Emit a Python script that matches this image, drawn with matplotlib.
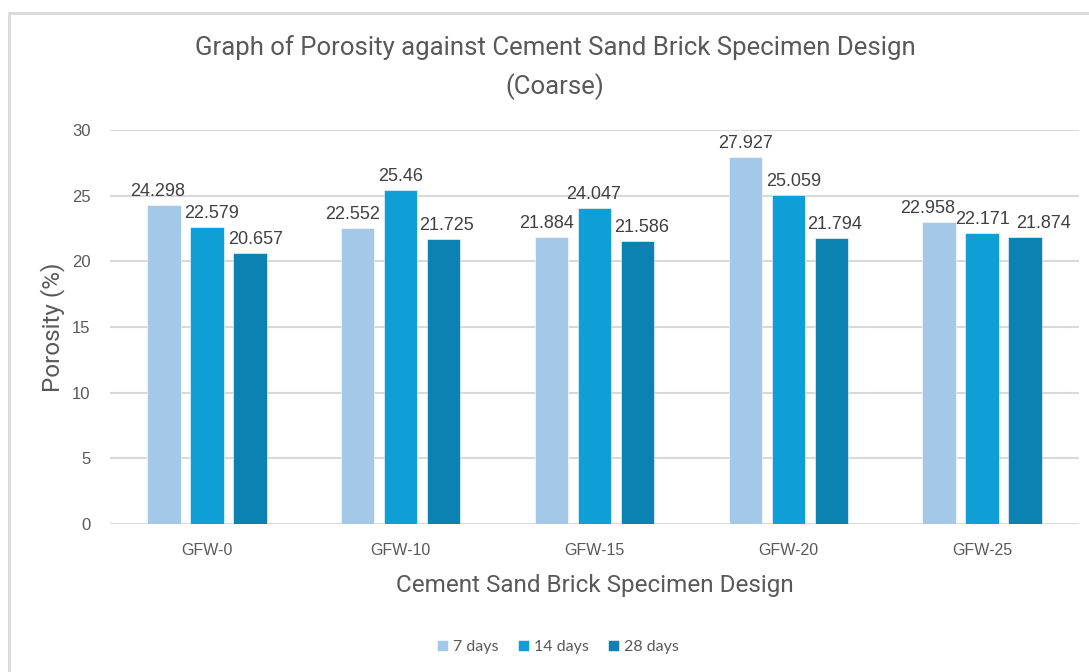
import matplotlib.pyplot as plt
import numpy as np
from matplotlib.patches import Rectangle

designs = ["GFW-0", "GFW-10", "GFW-15", "GFW-20", "GFW-25"]
series_names = ["7 days", "14 days", "28 days"]
days_7 = [24.298, 22.552, 21.884, 27.927, 22.958]
days_14 = [22.579, 25.46, 24.047, 25.059, 22.171]
days_28 = [20.657, 21.725, 21.586, 21.794, 21.874]
colors = ["#A3C8E8", "#0F9ED5", "#0B82B2"]

# sideways nudge of each value label (pixels), one row per series
label_shift = [
    [-6, -5, -5, 0, -11],
    [5, 0, -1, 5, 0],
    [6, 3, 4, 3, 18],
]

text_gray = "#595959"
label_gray = "#404040"

fig = plt.figure(figsize=(10.89, 6.72), dpi=100)
ax = fig.add_axes([110 / 1089, 148 / 672, 969 / 1089, 394 / 672])

# light frame round the whole chart
fig.patches.append(Rectangle((9 / 1089, -0.1), 1.2, (672 - 13) / 672 + 0.1,
                             transform=fig.transFigure, fill=False,
                             edgecolor="#D9D9D9", linewidth=2))

x = np.arange(len(designs))
width = 0.172
step = 0.222

for i, (name, vals) in enumerate(zip(series_names, [days_7, days_14, days_28])):
    pos = x + (i - 1) * step
    bars = ax.bar(pos, vals, width, color=colors[i], label=name,
                  edgecolor="white", linewidth=0.4, zorder=3)
    for b, v, dx in zip(bars, vals, label_shift[i]):
        ax.annotate(f"{v:g}", (b.get_x() + b.get_width() / 2, v),
                    xytext=(dx, 5), textcoords="offset pixels",
                    ha="center", va="bottom", fontsize=13,
                    color=label_gray, family="Liberation Sans")

ax.set_xlim(-0.5, len(designs) - 0.5)
ax.set_ylim(0, 30)
ax.set_yticks(range(0, 31, 5))
ax.set_xticks(x)
ax.set_xticklabels(designs)
ax.grid(axis="y", color="#D9D9D9", linewidth=1.5, zorder=0)
ax.tick_params(length=0, labelsize=11.5, colors=text_gray, pad=14)
ax.tick_params(axis="y", pad=14, labelsize=12)
for lab in ax.get_xticklabels() + ax.get_yticklabels():
    lab.set_family("Liberation Sans")
for s in ax.spines.values():
    s.set_visible(False)

ax.set_xlabel("Cement Sand Brick Specimen Design", fontsize=17.5,
              color=text_gray, family="Roboto", labelpad=11)
ax.set_ylabel("Porosity (%)", fontsize=17.5, color=text_gray,
              family="Roboto", labelpad=5)

fig.text(555 / 1089, 1 - 48 / 672, "Graph of Porosity against Cement Sand Brick Specimen Design",
         ha="center", va="center", fontsize=18.5, color=text_gray, family="Roboto")
fig.text(555 / 1089, 1 - 87 / 672, "(Coarse)", ha="center", va="center",
         fontsize=18.5, color=text_gray, family="Roboto")

leg = fig.legend(loc="center", bbox_to_anchor=(558 / 1089, 1 - 647 / 672),
                 ncol=3, frameon=False, handlelength=0.7,
                 handleheight=0.7, handletextpad=0.3, columnspacing=1.2,
                 prop={"family": "Lato", "size": 11.5})
for t in leg.get_texts():
    t.set_color(text_gray)

fig.savefig("out.png", dpi=100, facecolor="white")
